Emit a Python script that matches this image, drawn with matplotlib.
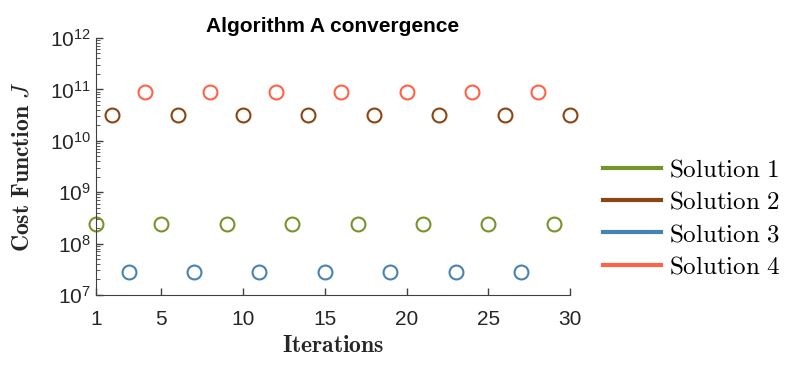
import math
import matplotlib
matplotlib.use('Agg')
import matplotlib.pyplot as plt
from matplotlib.ticker import FuncFormatter, LogLocator

plt.rcParams['mathtext.fontset'] = 'cm'
plt.rcParams['font.family'] = 'Liberation Sans'

# data
iters_1 = [1, 5, 9, 13, 17, 21, 25, 29]
cost_1 = [2.4e8] * len(iters_1)
iters_2 = [2, 6, 10, 14, 18, 22, 26, 30]
cost_2 = [3.2e10] * len(iters_2)
iters_3 = [3, 7, 11, 15, 19, 23, 27]
cost_3 = [2.8e7] * len(iters_3)
iters_4 = [4, 8, 12, 16, 20, 24, 28]
cost_4 = [9.0e10] * len(iters_4)

labels = ['Solution 1', 'Solution 2', 'Solution 3', 'Solution 4']
colors = ['#77942B', '#8B4513', '#4682B4', '#FF6347']
xticks = [1, 5, 10, 15, 20, 25, 30]

fig = plt.figure(figsize=(7.92, 3.65), dpi=100)
ax = fig.add_axes([0.121, 0.192, 0.599, 0.704])

series = [(iters_1, cost_1), (iters_2, cost_2), (iters_3, cost_3), (iters_4, cost_4)]
for (xs, ys), c in zip(series, colors):
    ax.plot(xs, ys, 'o', mfc='none', mec=c, ms=10, mew=1.5, clip_on=False)

# legend uses plain lines
for lab, c in zip(labels, colors):
    ax.plot([], [], '-', color=c, lw=3, label=r'$\mathrm{%s}$' % lab.replace(' ', r'\ '))

ax.set_yscale('log')
ax.set_ylim(1e7, 1e12)
ax.set_xlim(1, 30)
ax.set_xticks(xticks)
ax.yaxis.set_major_locator(LogLocator(base=10, numticks=10))
ax.yaxis.set_major_formatter(FuncFormatter(lambda v, p: r'$\mathregular{10^{%d}}$' % round(math.log10(v))))
ax.tick_params(direction='in', labelsize=15, length=5, width=1, colors='#404040', labelcolor='#262626')
ax.tick_params(which='minor', direction='in', length=3, colors='#404040')
ax.tick_params(axis='x', pad=11)
for s in ['left', 'bottom']:
    ax.spines[s].set_color('#404040')
ax.spines['top'].set_visible(False)
ax.spines['right'].set_visible(False)

ax.set_title('Algorithm A convergence', fontsize=15, fontweight='bold', pad=4)
ax.set_xlabel(r'$\mathbf{Iterations}$', fontsize=17, labelpad=4, color='#262626')
ax.set_ylabel(r'$\mathbf{Cost\ Function}\ J$', fontsize=17, labelpad=12, color='#262626')

ax.legend(loc='center left', bbox_to_anchor=(603 / 792, 0.403), bbox_transform=fig.transFigure,
          frameon=False, fontsize=18, handlelength=2.3, handletextpad=0.35,
          labelspacing=0.33, borderpad=0, borderaxespad=0)

fig.savefig('out.png', dpi=100)
